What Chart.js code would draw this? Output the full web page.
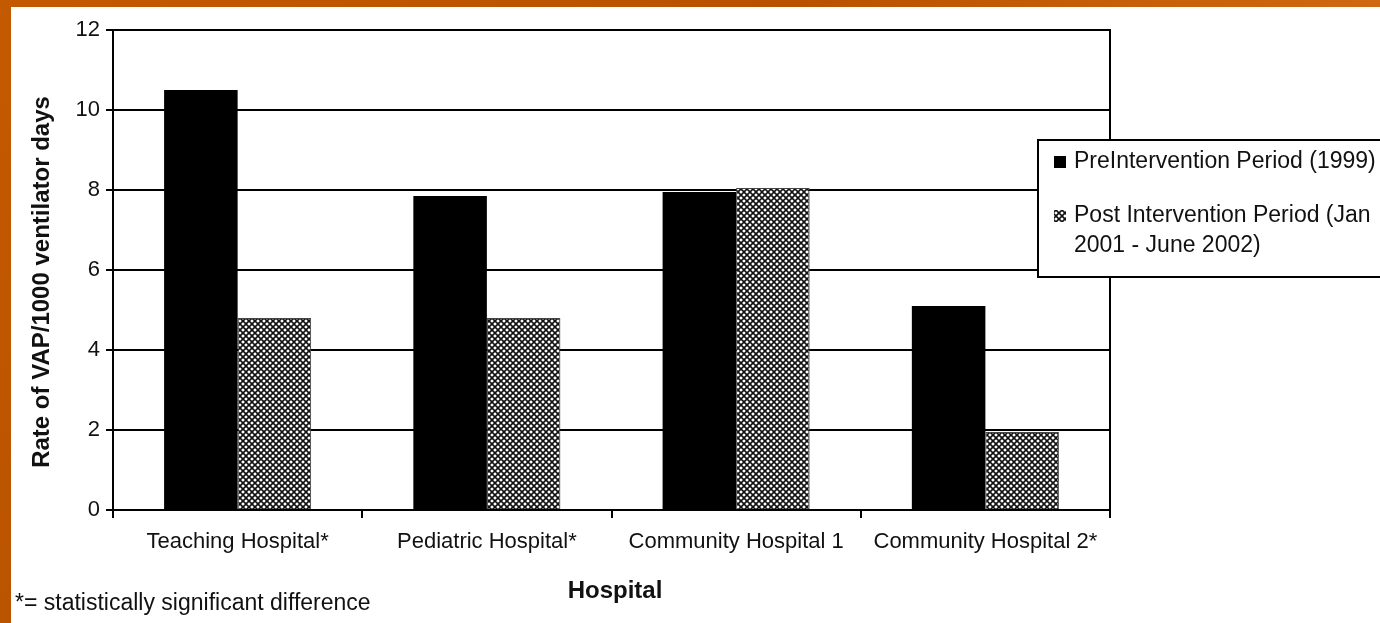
<!DOCTYPE html>
<html>
<head>
<script src="https://cdn.jsdelivr.net/npm/chart.js@4"></script>
<style>
html, body { margin: 0; padding: 0; }
body { width: 1380px; height: 623px; overflow: hidden;
  background: linear-gradient(135deg, #c45a00 0%, #b85200 40%, #d06a10 70%, #b04c00 100%); }
#wrap { position: absolute; left: 0; top: 0; width: 1380px; height: 623px; }
</style>
</head>
<body>
<div id="wrap"><canvas id="vapChart" width="1380" height="623"></canvas></div>
<script>
let hospitals = ["Teaching Hospital*", "Pediatric Hospital*", "Community Hospital 1", "Community Hospital 2*"];
let preValues = [10.5, 7.85, 7.95, 5.1];
let postValues = [4.8, 4.8, 8.05, 1.95];
let yTicks = [0, 2, 4, 6, 8, 10, 12];
let preLabel = "PreIntervention Period (1999)";
let postLabel = ["Post Intervention Period (Jan", "2001 - June 2002)"];

const FONT = "Arial, 'Liberation Sans', sans-serif";

function makeHatch() {
    let c = document.createElement("canvas");
    c.width = 6; c.height = 6;
    let g = c.getContext("2d");
    g.fillStyle = "#fff";
    g.fillRect(0, 0, 6, 6);
    g.strokeStyle = "#111";
    g.lineWidth = 1.6;
    g.beginPath();
    g.moveTo(0, 0); g.lineTo(6, 6);
    g.moveTo(6, 0); g.lineTo(0, 6);
    g.stroke();
    return document.getElementById("vapChart").getContext("2d").createPattern(c, "repeat");
}
let hatch = makeHatch();

const decor = {
    id: "decor",
    beforeDraw(chart) {
        let ctx = chart.ctx;
        ctx.save();
        ctx.fillStyle = "#fff";
        ctx.fillRect(11, 7, 1369, 616);
        ctx.restore();
    },
    afterDraw(chart) {
        let ctx = chart.ctx;
        let a = chart.chartArea;
        ctx.save();
        // plot frame
        ctx.strokeStyle = "#000";
        ctx.lineWidth = 2;
        ctx.strokeRect(a.left, a.top, a.right - a.left, a.bottom - a.top);

        // axis titles
        ctx.fillStyle = "#111";
        ctx.font = "bold 24px " + FONT;
        ctx.textAlign = "center";
        ctx.textBaseline = "middle";
        ctx.fillText("Hospital", 615, 591);
        ctx.save();
        ctx.translate(42, 282);
        ctx.rotate(-Math.PI / 2);
        ctx.fillText("Rate of VAP/1000 ventilator days", 0, 0);
        ctx.restore();

        ctx.font = "23px " + FONT;
        ctx.textAlign = "left";
        ctx.fillText("*= statistically significant difference", 15, 604);

        // legend
        ctx.fillStyle = "#fff";
        ctx.fillRect(1038, 140, 360, 137);
        ctx.strokeRect(1038, 140, 360, 137);
        ctx.fillStyle = "#000";
        ctx.fillRect(1054, 156, 12, 12);
        ctx.fillStyle = hatch;
        ctx.fillRect(1054, 210, 12, 12);
        ctx.fillStyle = "#111";
        ctx.font = "23px " + FONT;
        ctx.fillText(preLabel, 1074, 162);
        ctx.fillText(postLabel[0], 1074, 216);
        ctx.fillText(postLabel[1], 1074, 246);
        ctx.restore();
    }
};

let ctx = document.getElementById("vapChart").getContext("2d");
let vapChart = new Chart(ctx, {
    type: "bar",
    data: {
        labels: hospitals,
        datasets: [
            { label: preLabel, data: preValues, backgroundColor: "#000", borderWidth: 0 },
            { label: postLabel.join(" "), data: postValues, backgroundColor: hatch, borderColor: "#444", borderWidth: 1 }
        ]
    },
    options: {
        responsive: false,
        animation: false,
        layout: { padding: { top: 30, right: 270, left: 0, bottom: 0 } },
        plugins: { legend: { display: false }, tooltip: { enabled: false } },
        datasets: { bar: { categoryPercentage: 0.59, barPercentage: 1 } },
        scales: {
            x: {
                afterFit(s) { s.height = 113; },
                grid: { offset: true, drawOnChartArea: false, color: "#000", lineWidth: 2, tickLength: 8 },
                border: { color: "#000", width: 2 },
                ticks: { color: "#111", font: { family: FONT, size: 22 }, padding: 11, maxRotation: 0, autoSkip: false }
            },
            y: {
                min: 0, max: 12,
                afterFit(s) { s.width = 113; },
                afterBuildTicks(s) { s.ticks = yTicks.map(v => ({ value: v })); },
                grid: { color: "#000", lineWidth: 2, tickLength: 7 },
                border: { color: "#000", width: 2 },
                ticks: { color: "#111", font: { family: FONT, size: 22 }, padding: 6 }
            }
        }
    },
    plugins: [decor]
});
</script>
</body>
</html>
